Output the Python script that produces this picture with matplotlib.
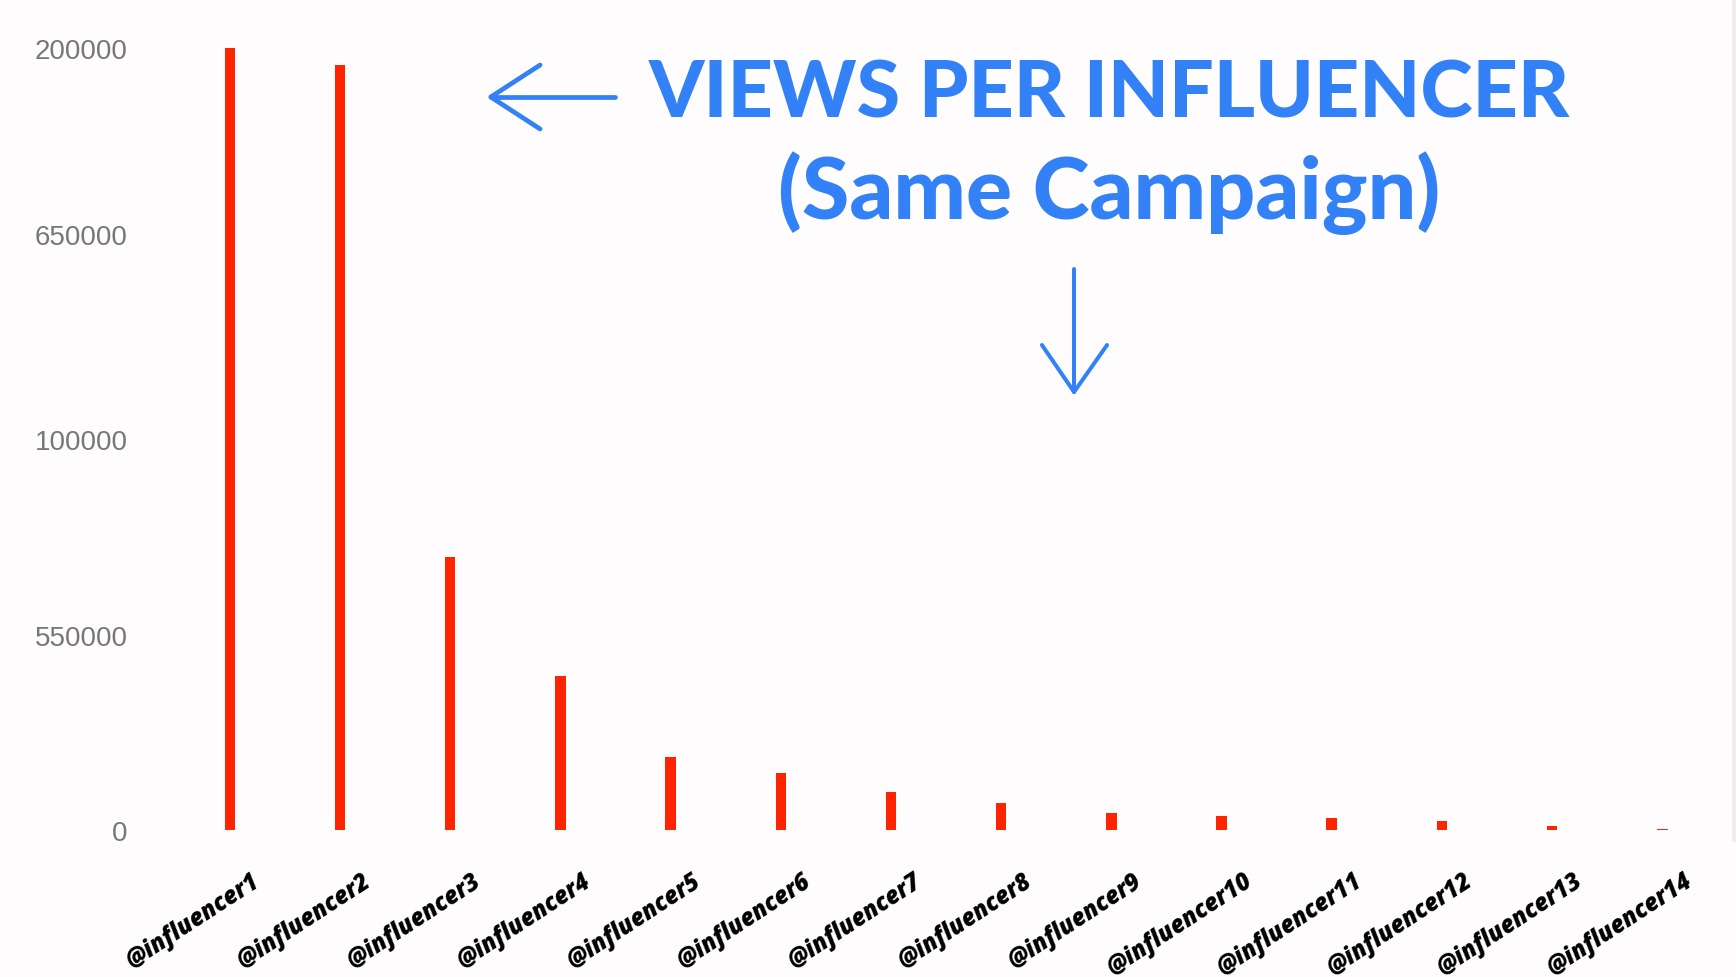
import numpy as np
import matplotlib
matplotlib.use('Agg')
import matplotlib.pyplot as plt
from matplotlib.lines import Line2D
from matplotlib.patches import Rectangle
from matplotlib.transforms import ScaledTranslation

influencers = ['@influencer%d' % i for i in range(1, 15)]
views       = [200000, 195500, 70000, 39500, 18800, 14600, 9800,
               7100, 4400, 3700, 3100, 2500, 1100, 450]
ytick_vals  = [0, 50000, 100000, 150000, 200000]
ytick_text  = ['0', '550000', '100000', '650000', '200000']
title_1     = 'VIEWS PER INFLUENCER'
title_2     = '(Same Campaign)'

bar_red  = '#ff2400'
blue     = '#3381f6'
bg       = '#fefcfd'

fig = plt.figure(figsize=(17.36, 9.78), dpi=100, facecolor=bg)
ax  = fig.add_axes([0.1006, 0.1498, 0.8887, 0.8004], facecolor=bg)

x = np.arange(len(views))
ax.bar(x, views, width=0.095, color=bar_red)
ax.set_xlim(-0.5, len(views) - 0.5)
ax.set_ylim(0, 200000)

ax.set_yticks(ytick_vals)
ax.set_yticklabels(ytick_text, family='Liberation Sans', fontsize=20, color='#777777')
ax.set_xticks(x)
ax.set_xticklabels(influencers, family='Open Sans', fontsize=17, fontweight='heavy',
                   style='italic', color='black')
ax.tick_params(axis='both', length=0)
ax.tick_params(axis='y', pad=34)
ax.tick_params(axis='x', pad=27)
offset = ScaledTranslation(0.21, 0, fig.dpi_scale_trans)
for lab in ax.get_xticklabels():
    lab.set_rotation(33)
    lab.set_ha('right')
    lab.set_va('top')
    lab.set_rotation_mode('anchor')
    lab.set_transform(lab.get_transform() + offset)
# the 650000 label sits a little high in the original
ylabs = ax.get_yticklabels()
ylabs[3].set_transform(ylabs[3].get_transform() + ScaledTranslation(0, 0.09, fig.dpi_scale_trans))
for s in ax.spines.values():
    s.set_visible(False)

# title text
fig.text(0.639, 0.903, title_1, ha='center', va='center', color=blue,
         family='Lato', fontweight='black', fontsize=57)
fig.text(0.639, 0.803, title_2, ha='center', va='center', color=blue,
         family='Lato', fontweight='black', fontsize=62)

# hand drawn arrows
def arrow(pts, lw):
    xs, ys = zip(*pts)
    fig.add_artist(Line2D(xs, ys, transform=fig.transFigure, color=blue, lw=lw,
                          solid_capstyle='round', solid_joinstyle='round'))

arrow([(0.3543, 0.8998), (0.2827, 0.8998)], 3.4)
arrow([(0.3111, 0.9325), (0.2827, 0.8998), (0.3111, 0.8671)], 3.4)
arrow([(0.6187, 0.7239), (0.6187, 0.5982)], 2.9)
arrow([(0.6002, 0.6462), (0.6187, 0.5982), (0.6377, 0.6462)], 2.9)

# light strip at the right edge
fig.add_artist(Rectangle((0.9975, 0.138), 0.0025, 0.862, transform=fig.transFigure,
                         color='#eeecef', lw=0))

fig.savefig('out.png', dpi=100, facecolor=bg)
